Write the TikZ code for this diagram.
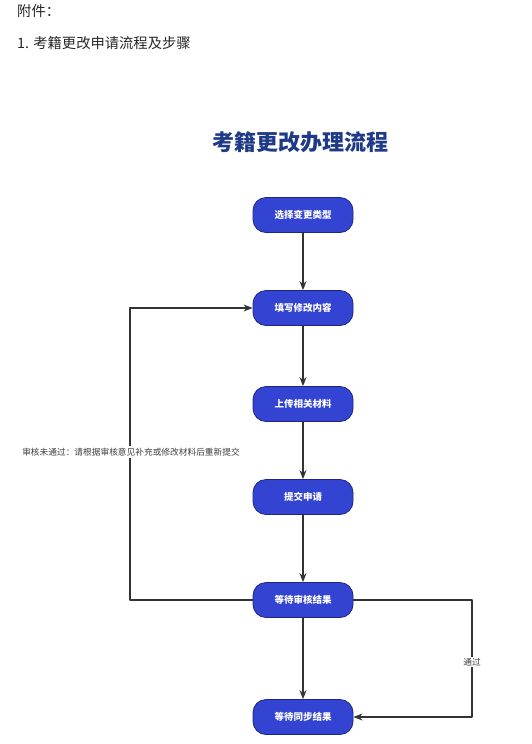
\documentclass[tikz,border=0pt]{standalone}
\usepackage{fontspec}
\setmainfont{Noto Sans CJK SC}
\usetikzlibrary{arrows.meta}
\definecolor{stepfill}{HTML}{3444D2}
\definecolor{stepedge}{HTML}{1D2780}
\definecolor{titleblue}{HTML}{1F3A86}

\begin{document}
\begin{tikzpicture}[
  x=1pt, y=-1pt, line cap=round, line join=round,
  stepbox/.style={draw=stepedge, fill=stepfill, line width=0.8pt, rounded corners=13pt,
    minimum width=100pt, minimum height=35pt, text=white, font=\fontsize{9.5}{11}\bfseries\selectfont},
  flow/.style={draw=black!80, line width=1.2pt, -{Stealth[length=9pt, width=7pt]}},
  lbl/.style={fill=white, inner sep=1.5pt, text=black!75, font=\fontsize{8.7}{10}\selectfont},
]

\path[use as bounding box] (0,0) rectangle (532,744);

% Heading
\node[anchor=west, inner sep=0pt, font=\fontsize{14.3}{16}\selectfont, text=black!85] (fujian) at (17,11) {附件：};
\node[anchor=west, inner sep=0pt, font=\fontsize{14.3}{16}\selectfont, text=black!85] (heading) at (17,43) {1. 考籍更改申请流程及步骤};
\node[font=\fontsize{22}{24}\bfseries\selectfont, text=titleblue] (title) at (300,142) {考籍更改办理流程};

% Steps
\node[stepbox] (s1) at (303,215) {选择变更类型};
\node[stepbox] (s2) at (303,308) {填写修改内容};
\node[stepbox] (s3) at (303,404) {上传相关材料};
\node[stepbox] (s4) at (303,497) {提交申请};
\node[stepbox] (s5) at (303,600) {等待审核结果};
\node[stepbox] (s6) at (303,717) {等待同步结果};

\draw[flow] (s1) -- (s2);
\draw[flow] (s2) -- (s3);
\draw[flow] (s3) -- (s4);
\draw[flow] (s4) -- (s5);
\draw[flow] (s5) -- (s6);

% Loops
\coordinate (backL) at (130,600);
\coordinate (passR) at (472,600);
\draw[flow] (s5.west) -- (backL) |- (s2.west);
\draw[flow] (s5.east) -- (passR) |- (s6.east);
\node[lbl] (nopass) at (131,452) {审核未通过：请根据审核意见补充或修改材料后重新提交};
\node[lbl] (pass) at (472,662) {通过};

\end{tikzpicture}
\end{document}
